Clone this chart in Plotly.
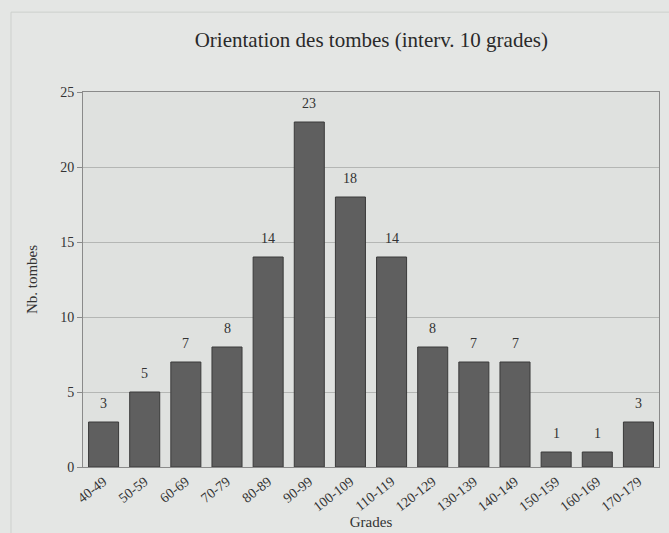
import plotly.graph_objects as go

categories = ["40-49", "50-59", "60-69", "70-79", "80-89", "90-99", "100-109",
              "110-119", "120-129", "130-139", "140-149", "150-159", "160-169", "170-179"]
counts = [3, 5, 7, 8, 14, 23, 18, 14, 8, 7, 7, 1, 1, 3]
y_ticks = [0, 5, 10, 15, 20, 25]

serif = "Liberation Serif, Times New Roman, serif"

fig = go.Figure(go.Bar(
    x=categories, y=counts,
    marker=dict(color="#5f5f5f", line=dict(color="#3a3a3a", width=1)),
))

for c, v in zip(categories, counts):
    fig.add_annotation(x=c, y=v, text=str(v), showarrow=False,
                       yanchor="bottom", yshift=9,
                       font=dict(family=serif, size=14, color="#333333"))

fig.update_layout(
    width=669, height=533,
    margin=dict(l=83, r=10, t=92, b=66),
    paper_bgcolor="#e4e6e4",
    plot_bgcolor="#dfe1df",
    bargap=0.27,
    showlegend=False,
    title=dict(text="Orientation des tombes (interv. 10 grades)",
               x=0.555, xanchor="center", y=0.925, yanchor="middle",
               font=dict(family=serif, size=21, color="#2a2a2a")),
    font=dict(family=serif, color="#333333"),
)
fig.update_xaxes(
    automargin=False,
    tickangle=-38, tickfont=dict(size=14, family=serif, color="#333333"),
    title=dict(text="Grades", font=dict(size=15, family=serif), standoff=2),
    showline=True, linecolor="#8a8a8a", linewidth=1, mirror=True,
    ticks="", showgrid=False,
)
fig.update_yaxes(
    automargin=False,
    range=[0, 25], tickvals=y_ticks,
    tickfont=dict(size=14, family=serif, color="#333333"),
    title=dict(text="Nb. tombes", font=dict(size=15, family=serif), standoff=18),
    showline=True, linecolor="#8a8a8a", linewidth=1, mirror=True,
    gridcolor="#b4b6b4", gridwidth=1, zeroline=False,
    ticks="outside", ticklen=5, tickcolor="#8a8a8a",
)
fig.add_shape(type="rect", xref="paper", yref="paper",
              x0=-0.125, x1=1.1, y0=-0.3, y1=1.213,
              line=dict(color="#cdd0cd", width=1), layer="below")

fig.write_html("out.html", config={"displayModeBar": False},
               post_script="document.body.style.margin='0';document.body.style.background='#e4e6e4';")
